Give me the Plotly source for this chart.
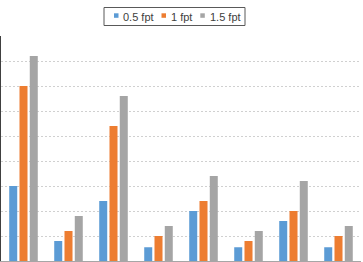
import plotly.graph_objects as go

categories = ["1", "2", "3", "4", "5", "6", "7", "8"]
series_names = ["0.5 fpt", "1 fpt", "1.5 fpt"]
v_05 = [3.0, 0.8, 2.4, 0.55, 2.0, 0.55, 1.6, 0.55]
v_10 = [7.0, 1.2, 5.4, 1.0, 2.4, 0.8, 2.0, 1.0]
v_15 = [8.2, 1.8, 6.6, 1.4, 3.4, 1.2, 3.2, 1.4]
colors = ["#5B9BD5", "#ED7D31", "#A5A5A5"]

W, H = 363, 262
L, R, T, B = 1, 2, 36, 1
pw, ph = W - L - R, H - T - B

fig = go.Figure()
for name, vals, c in zip(series_names, [v_05, v_10, v_15], colors):
    fig.add_trace(go.Bar(x=categories, y=vals, name=name, marker_color=c,
                         marker_line_width=0, showlegend=False))

def px2paper(x, y):
    return (x - L) / pw, (H - B - y) / ph

shapes = []
annotations = []
# legend box
x0, y0 = px2paper(104, 7.5)
x1, y1 = px2paper(245, 25.5)
shapes.append(dict(type="rect", xref="paper", yref="paper", x0=x0, x1=x1, y0=y1, y1=y0,
                   line=dict(color="#595959", width=1), fillcolor="white", layer="above"))
sq_x = [114, 161.5, 200.3]
tx_x = [121, 169, 208]
for name, c, sx, tx in zip(series_names, colors, sq_x, tx_x):
    a0, b0 = px2paper(sx, 13.3)
    a1, b1 = px2paper(sx + 4.5, 17.8)
    shapes.append(dict(type="rect", xref="paper", yref="paper", x0=a0, x1=a1, y0=b1, y1=b0,
                       line=dict(width=0), fillcolor=c, layer="above"))
    ax, ay = px2paper(tx, 16.5)
    annotations.append(dict(text=name, xref="paper", yref="paper", x=ax, y=ay,
                            xanchor="left", yanchor="middle", showarrow=False,
                            font=dict(family="Liberation Sans, Arial", size=11, color="#404040")))

fig.update_layout(
    width=W, height=H,
    margin=dict(l=L, r=R, t=T, b=B, pad=0),
    paper_bgcolor="white", plot_bgcolor="white",
    barmode="group", bargap=0.315, bargroupgap=0.22,
    shapes=shapes, annotations=annotations,
    xaxis=dict(showticklabels=False, showgrid=False, showline=True,
               linecolor="#A6A6A6", linewidth=1, ticks="", zeroline=False),
    yaxis=dict(range=[0, 9], dtick=1, showticklabels=False, showgrid=True,
               gridcolor="#D0D0D0", griddash="2px,2px", gridwidth=1,
               showline=True, linecolor="#404040", linewidth=1.5, ticks="", zeroline=False),
)

fig.write_html("out.html")
